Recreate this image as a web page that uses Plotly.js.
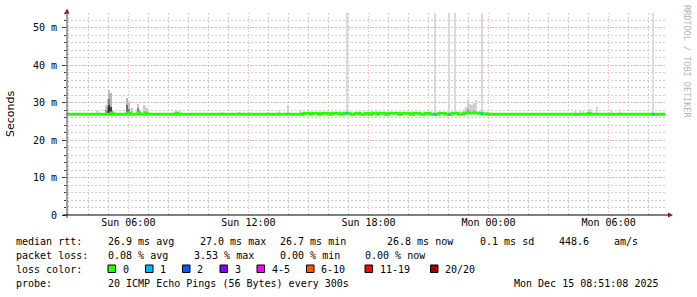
<!DOCTYPE html>
<html>
<head>
<meta charset="utf-8">
<script src="https://cdn.plot.ly/plotly-3.0.1.min.js"></script>
<style>html,body{margin:0;padding:0;background:#fff;}#chart{width:697px;height:297px;}</style>
</head>
<body>
<div id="chart"></div>
<script>
// ---------------- DATA ----------------
// median RTT (ms), step breakpoints
const medianTime = [
 '2025-12-14 02:55','2025-12-14 05:08','2025-12-14 05:14','2025-12-14 05:59','2025-12-14 06:05',
 '2025-12-14 06:29','2025-12-14 06:35','2025-12-14 06:50','2025-12-14 06:56','2025-12-14 08:23',
 '2025-12-14 08:29','2025-12-14 14:45','2025-12-14 15:05','2025-12-14 15:10','2025-12-14 15:30',
 '2025-12-14 15:40','2025-12-14 16:00','2025-12-14 16:10','2025-12-14 16:35','2025-12-14 16:45',
 '2025-12-14 17:05','2025-12-14 17:20','2025-12-14 17:35','2025-12-14 17:50','2025-12-14 18:00',
 '2025-12-14 18:10','2025-12-14 18:25','2025-12-14 18:30','2025-12-14 18:50','2025-12-14 19:00',
 '2025-12-14 19:30','2025-12-14 19:40','2025-12-14 20:05','2025-12-14 20:15','2025-12-14 20:35',
 '2025-12-14 20:50','2025-12-14 21:05','2025-12-14 21:30','2025-12-14 21:50','2025-12-14 22:10',
 '2025-12-14 22:30','2025-12-14 22:45','2025-12-14 23:35','2025-12-14 23:55','2025-12-15 04:59',
 '2025-12-15 05:04','2025-12-15 08:50'];
const medianMs = [
 26.9,27.3,26.9,27.3,26.9,
 27.3,26.9,27.3,26.9,27.3,
 26.9,27.2,26.9,27.2,26.9,
 27.2,26.9,27.2,26.9,27.2,
 26.9,27.2,26.9,27.2,26.9,
 27.2,26.9,27.2,26.9,27.2,
 26.9,27.2,26.9,27.2,26.9,
 27.2,26.9,27.2,26.9,27.2,
 26.9,27.3,27.1,26.9,27.2,
 26.9,26.9];

// steps with packet loss (number of lost pings out of 20)
const lossTime  = ['2025-12-14 16:55','2025-12-14 21:19','2025-12-14 22:02','2025-12-14 23:41','2025-12-15 08:14'];
const lossCount = [1,1,1,1,1];

// smoke: ping spread per step (ms) and density (share of pings)
const smokeTime = [
 '2025-12-14 04:26','2025-12-14 04:31','2025-12-14 04:53','2025-12-14 04:53','2025-12-14 04:58',
 '2025-12-14 04:58','2025-12-14 05:03','2025-12-14 05:03','2025-12-14 05:03','2025-12-14 05:08',
 '2025-12-14 05:08','2025-12-14 05:13','2025-12-14 05:56','2025-12-14 05:56','2025-12-14 06:01',
 '2025-12-14 06:01','2025-12-14 06:11','2025-12-14 06:29','2025-12-14 06:29','2025-12-14 06:34',
 '2025-12-14 06:46','2025-12-14 06:51','2025-12-14 06:56','2025-12-14 10:41','2025-12-14 11:31',
 '2025-12-14 11:36','2025-12-14 12:59','2025-12-14 13:32','2025-12-14 13:59','2025-12-14 14:35',
 '2025-12-14 16:55','2025-12-14 18:11','2025-12-14 18:23','2025-12-14 21:19','2025-12-14 22:02',
 '2025-12-14 22:20','2025-12-14 22:53','2025-12-14 22:59','2025-12-14 22:59','2025-12-14 23:05',
 '2025-12-14 23:11','2025-12-14 23:17','2025-12-14 23:17','2025-12-14 23:23','2025-12-14 23:41',
 '2025-12-15 04:20','2025-12-15 04:35','2025-12-15 04:44','2025-12-15 05:05','2025-12-15 05:26',
 '2025-12-15 06:08','2025-12-15 06:32','2025-12-15 08:14'];
const smokeLoMs = [
 26.9,26.9,26.9,26.9,26.8, 26.9,26.8,26.9,26.9,26.8, 26.9,26.9,26.9,26.9,26.9,
 26.9,26.9,26.9,26.9,26.9, 26.9,26.9,26.9,26.9,26.9, 26.9,26.9,26.9,26.9,26.9,
 27.0,26.9,26.9,27.0,27.0, 27.0,26.9,26.9,26.9,26.9, 26.9,26.9,26.9,26.9,27.0,
 26.9,26.9,26.9,26.9,26.9, 26.9,26.9,27.0];
const smokeHiMs = [
 28.0,27.8,29.5,28.0,31.0, 29.0,33.4,31.0,29.5,32.5, 29.0,28.0,31.3,29.5,30.3,
 28.3,28.6,29.8,28.5,28.2, 29.3,29.1,28.6,27.6,27.6, 27.6,27.6,27.7,29.4,27.8,
 54.0,27.9,27.7,54.0,54.0, 54.0,29.0,30.7,28.3,29.6, 29.3,30.0,28.2,30.7,54.0,
 27.8,27.8,27.7,28.3,28.8, 28.2,27.8,54.0];
const smokeDensity = [
 0.12,0.12,0.15,0.40,0.20, 0.55,0.25,0.50,0.85,0.25, 0.80,0.30,0.25,0.60,0.20,
 0.50,0.20,0.20,0.50,0.25, 0.15,0.15,0.12,0.10,0.10, 0.10,0.10,0.10,0.15,0.10,
 0.10,0.10,0.10,0.10,0.10, 0.10,0.15,0.15,0.35,0.15, 0.15,0.15,0.30,0.12,0.10,
 0.10,0.10,0.10,0.12,0.12, 0.10,0.10,0.08];

// y tick labels
const yTickMs = [0,10,20,30,40,50];
const yTickText = ['0','10 m','20 m','30 m','40 m','50 m'];

// legend / statistics text
const lossLabels = ['0','1','2','3','4-5','6-10','11-19','20/20'];
const lossColors = ['#26ff00','#00b8ff','#0059ff','#7e00ff','#ff00ff','#ff5500','#ff0000','#a10000'];
const rttStats  = ['26.9 ms avg','27.0 ms max','26.7 ms min','26.8 ms now','0.1 ms sd','448.6','am/s'];
const lossStats = ['0.08 % avg','3.53 % max','0.00 % min','0.00 % now'];
const probeText = '20 ICMP Echo Pings (56 Bytes) every 300s';
const stampText = 'Mon Dec 15 08:51:08 2025';

// ---------------- LAYOUT HELPERS ----------------
const L = 67, T = 13, PW = 600, PH = 202, W = 697, H = 297;
const px = x => (x - L) / PW;
const py = y => (T + PH - y) / PH;
const toDate = s => new Date(s.replace(' ', 'T') + ':00Z');
const fmt = d => d.toISOString().slice(0,19).replace('T',' ');
const FONT = 'DejaVu Sans Mono';

function medianAt(t) {
  const tt = toDate(t).getTime();
  let v = medianMs[0];
  for (let i = 0; i < medianTime.length; i++) {
    if (toDate(medianTime[i]).getTime() <= tt) v = medianMs[i];
  }
  return v;
}
function lossColor(n) {
  if (n <= 0) return lossColors[0];
  if (n === 1) return lossColors[1];
  if (n === 2) return lossColors[2];
  if (n === 3) return lossColors[3];
  if (n <= 5) return lossColors[4];
  if (n <= 10) return lossColors[5];
  if (n <= 19) return lossColors[6];
  return lossColors[7];
}

// ---------------- TRACES ----------------
const traces = [];
traces.push({
  type: 'bar',
  x: smokeTime.map(s => fmt(toDate(s))),
  base: smokeLoMs.map(v => v / 1000),
  y: smokeHiMs.map((v, i) => (v - smokeLoMs[i]) / 1000),
  width: 300000,
  marker: {
    color: smokeDensity.map(d => { const g = Math.round(238 - d * 215); return `rgb(${g},${g},${g})`; }),
    line: {width: 0}
  },
  hoverinfo: 'skip', showlegend: false
});
traces.push({
  type: 'scatter', mode: 'lines',
  x: medianTime.map(s => fmt(toDate(s))),
  y: medianMs.map(v => v / 1000),
  line: {color: lossColors[0], width: 3, shape: 'hv'},
  hoverinfo: 'skip', showlegend: false
});
lossTime.forEach((t, i) => {
  const d = toDate(t).getTime();
  const v = medianAt(t) / 1000;
  traces.push({
    type: 'scatter', mode: 'lines',
    x: [fmt(new Date(d - 150000)), fmt(new Date(d + 150000))],
    y: [v, v],
    line: {color: lossColor(lossCount[i]), width: 3},
    hoverinfo: 'skip', showlegend: false
  });
});

// ---------------- SHAPES & ANNOTATIONS ----------------
const shapes = [
  {type: 'line', xref: 'paper', yref: 'paper', x0: px(67), x1: px(67), y0: py(218), y1: py(11), line: {color: '#404040', width: 1}},
  {type: 'line', xref: 'paper', yref: 'paper', x0: px(63), x1: px(669), y0: py(215), y1: py(215), line: {color: '#000000', width: 1}},
  {type: 'path', xref: 'paper', yref: 'paper', path: `M ${px(64.5)} ${py(13.5)} L ${px(69.5)} ${py(13.5)} L ${px(67)} ${py(8.5)} Z`, fillcolor: '#8b1a1a', line: {width: 0}},
  {type: 'path', xref: 'paper', yref: 'paper', path: `M ${px(668)} ${py(212.5)} L ${px(668)} ${py(217.5)} L ${px(673)} ${py(215)} Z`, fillcolor: '#8b1a1a', line: {width: 0}}
];
const annotations = [];
function txt(x, y, s, extra) {
  annotations.push(Object.assign({
    xref: 'paper', yref: 'paper', x: px(x - 1), y: py(y), xanchor: 'left', yanchor: 'middle',
    text: s.replace(/ /g, '\u00a0'), showarrow: false, borderpad: 0,
    font: {family: FONT, size: 10, color: '#000'}
  }, extra || {}));
}
const rows = [241, 255, 269, 283];
txt(16, rows[0], 'median rtt:');
[108, 200, 280, 387, 480, 559, 614].forEach((x, i) => txt(x, rows[0], rttStats[i]));
txt(16, rows[1], 'packet loss:');
[108, 194, 280, 365].forEach((x, i) => txt(x, rows[1], lossStats[i]));
txt(16, rows[2], 'loss color:');
[108, 145.5, 182.5, 220, 257, 306.5, 365, 430.5].forEach((x, i) => {
  shapes.push({type: 'rect', xref: 'paper', yref: 'paper', x0: px(x), x1: px(x + 7.5), y0: py(265), y1: py(272.5),
    fillcolor: lossColors[i], line: {color: '#000', width: 1}});
  txt(x + 14.5, rows[2], lossLabels[i]);
});
txt(16, rows[3], 'probe:');
txt(108, rows[3], probeText);
txt(514, rows[3], stampText);
annotations.push({
  xref: 'paper', yref: 'paper', x: px(687), y: py(61), xanchor: 'center', yanchor: 'middle',
  text: 'RRDTOOL / TOBI OETIKER', textangle: 90, showarrow: false,
  font: {family: FONT, size: 8.5, color: '#b4b4b4'}
});

// ---------------- LAYOUT ----------------
const majorGrid = 'rgba(235,150,150,0.75)';
const minorGrid = 'rgba(200,200,200,0.9)';
const layout = {
  width: W, height: H,
  margin: {l: L, r: W - L - PW, t: T, b: H - T - PH, pad: 0},
  paper_bgcolor: '#ffffff', plot_bgcolor: '#ffffff',
  showlegend: false, barmode: 'overlay', bargap: 0,
  font: {family: FONT, size: 10, color: '#000'},
  xaxis: {
    type: 'date',
    range: ['2025-12-14 02:56:06', '2025-12-15 08:55:06'],
    tickmode: 'linear', tick0: '2025-12-14 00:00', dtick: 6 * 3600000,
    tickformat: '%a %H:%M',
    showgrid: true, gridcolor: majorGrid, griddash: '1px,2px', gridwidth: 1,
    minor: {tickmode: 'linear', tick0: '2025-12-14 00:00', dtick: 3600000, showgrid: true,
            gridcolor: minorGrid, griddash: '2px,2px', gridwidth: 1},
    showline: false, zeroline: false, ticks: '',
    ticklabelstandoff: 0,
    tickfont: {family: FONT, size: 10, color: '#000'},
    fixedrange: true
  },
  yaxis: {
    range: [0, 0.054],
    tickmode: 'array', tickvals: yTickMs.map(v => v / 1000), ticktext: yTickText,
    showgrid: true, gridcolor: majorGrid, griddash: '1px,2px', gridwidth: 1,
    minor: {tickmode: 'linear', tick0: 0, dtick: 0.002, showgrid: true,
            gridcolor: minorGrid, griddash: '2px,2px', gridwidth: 1,
            ticks: 'outside', ticklen: 2, tickcolor: '#404040'},
    ticks: 'outside', ticklen: 4, tickcolor: '#404040', tickwidth: 1,
    ticklabelstandoff: 3,
    showline: false, zeroline: false,
    tickfont: {family: FONT, size: 10, color: '#000'},
    title: {text: 'Seconds', font: {family: 'DejaVu Sans', size: 11, color: '#000'}, standoff: 16},
    fixedrange: true
  },
  shapes: shapes,
  annotations: annotations
};

Plotly.newPlot('chart', traces, layout, {staticPlot: true, displayModeBar: false});
</script>
</body>
</html>
